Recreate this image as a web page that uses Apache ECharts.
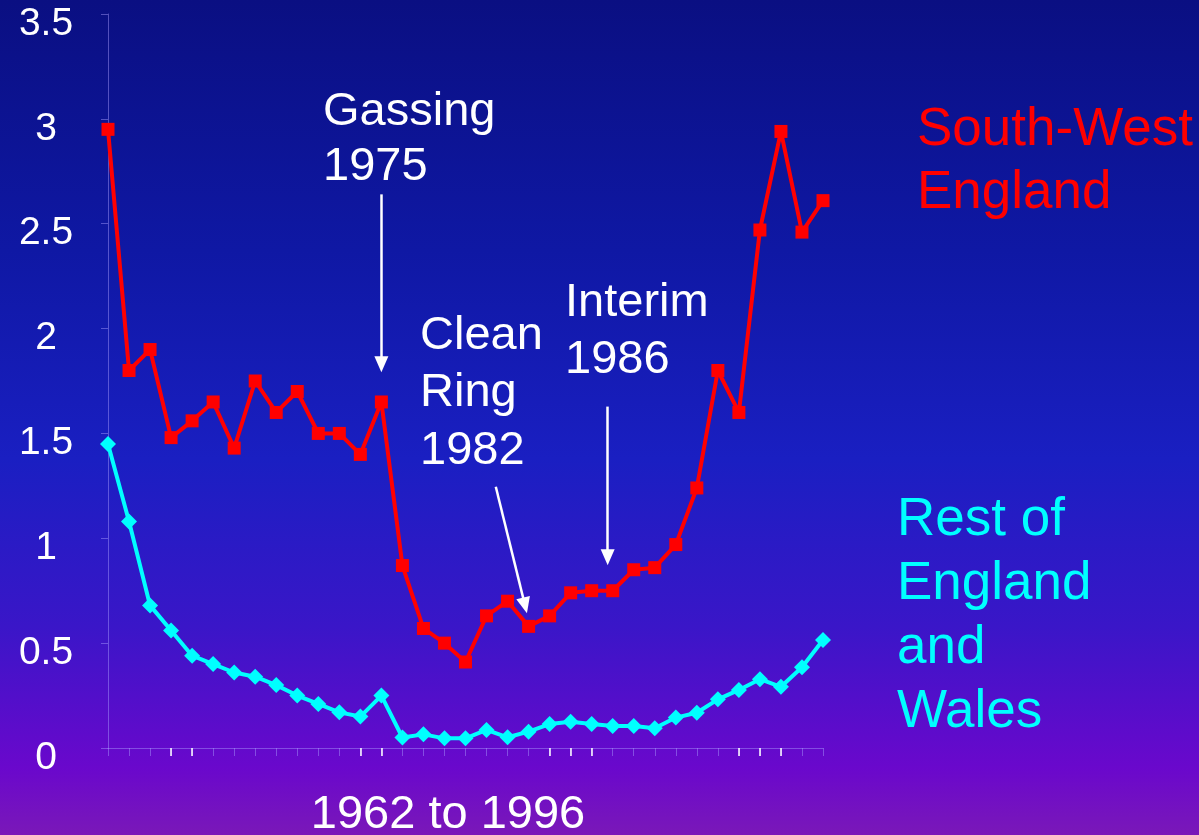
<!DOCTYPE html>
<html>
<head>
<meta charset="utf-8">
<script src="https://cdn.jsdelivr.net/npm/echarts@6/dist/echarts.min.js"></script>
<style>
  html, body { margin: 0; padding: 0; }
  #chart { width: 1199px; height: 835px; }
</style>
</head>
<body>
<div id="chart"></div>
<script>
// years 1962..1996
var years = [];
for (var y = 1962; y <= 1996; y++) years.push(y);

// south-west England (red)
var southWest = [2.95, 1.80, 1.90, 1.48, 1.56, 1.65, 1.43, 1.75, 1.60, 1.70,
  1.50, 1.50, 1.40, 1.65, 0.87, 0.57, 0.50, 0.41, 0.63, 0.70,
  0.58, 0.63, 0.74, 0.75, 0.75, 0.85, 0.86, 0.97, 1.24, 1.80,
  1.60, 2.47, 2.94, 2.46, 2.61];

// rest of England and Wales (cyan)
var restOfEngland = [1.45, 1.08, 0.68, 0.56, 0.44, 0.40, 0.36, 0.34, 0.30, 0.25,
  0.21, 0.17, 0.15, 0.25, 0.05, 0.065, 0.046, 0.046, 0.086, 0.051,
  0.078, 0.114, 0.125, 0.114, 0.105, 0.105, 0.094, 0.145, 0.168, 0.232,
  0.277, 0.328, 0.292, 0.385, 0.515];

var yTicks = [0, 0.5, 1, 1.5, 2, 2.5, 3, 3.5];

// arrows: [fromYear, fromValue, toYear, toValue]
var arrows = [
  [1975, 2.64, 1975, 1.83],
  [1980.44, 1.246, 1981.83, 0.68],
  [1985.76, 1.628, 1985.76, 0.91]
];

// brighter tick marks seen on the x axis
var brightTicks = [1965, 1966, 1974, 1975, 1983, 1984, 1985, 1992, 1993, 1994];

var faint = 'rgba(170,160,255,0.45)';
var font = 'Liberation Sans, Arial, sans-serif';

function pairs(vals) {
  return vals.map(function (v, i) { return [years[i], v]; });
}

var chart = echarts.init(document.getElementById('chart'));
chart.setOption({
  animation: false,
  backgroundColor: {
    type: 'linear', x: 0, y: 0, x2: 0, y2: 1,
    colorStops: [
      { offset: 0, color: '#0a0f82' },
      { offset: 0.3, color: '#0f18a4' },
      { offset: 0.55, color: '#1a1fc2' },
      { offset: 0.75, color: '#3a16c8' },
      { offset: 0.92, color: '#6a08cc' },
      { offset: 1, color: '#7a18b8' }
    ]
  },
  grid: { left: 108, right: 376, top: 14, bottom: 87 },
  xAxis: [{
    type: 'value',
    min: years[0], max: years[years.length - 1], interval: 1,
    axisLine: { lineStyle: { color: faint, width: 1 } },
    axisTick: { show: true, length: 8, lineStyle: { color: faint } },
    axisLabel: { show: false },
    splitLine: { show: false }
  }, {
    type: 'value',
    position: 'bottom',
    min: years[0], max: years[years.length - 1],
    axisLine: { show: false },
    axisTick: { show: true, length: 8, customValues: brightTicks, lineStyle: { color: '#ffffff', width: 1.5 } },
    axisLabel: { show: false },
    splitLine: { show: false }
  }],
  yAxis: {
    type: 'value',
    min: 0, max: 3.5, interval: 0.5,
    axisLine: { show: true, lineStyle: { color: faint } },
    axisTick: { show: true, length: 7, lineStyle: { color: faint } },
    splitLine: { show: false },
    axisLabel: {
      color: '#ffffff', fontSize: 39, fontFamily: font,
      align: 'center', margin: 62, verticalAlign: 'top', lineHeight: 20,
      formatter: function (v) { return yTicks.indexOf(v) >= 0 ? String(v) : ''; }
    }
  },
  series: [{
    name: 'South-West England',
    type: 'line',
    data: pairs(southWest),
    symbol: 'rect', symbolSize: 13,
    lineStyle: { color: '#ff0000', width: 4 },
    itemStyle: { color: '#ff0000' },
    emphasis: { disabled: true },
    z: 3,
    markLine: {
      silent: true,
      symbol: ['none', 'triangle'],
      symbolSize: [14, 16],
      label: { show: false },
      lineStyle: { color: '#ffffff', width: 2.5, type: 'solid' },
      data: arrows.map(function (a) {
        return [{ coord: [a[0], a[1]] }, { coord: [a[2], a[3]] }];
      })
    }
  }, {
    name: 'Rest of England and Wales',
    type: 'line',
    data: pairs(restOfEngland),
    symbol: 'diamond', symbolSize: [16, 16],
    lineStyle: { color: '#00ffff', width: 4 },
    itemStyle: { color: '#00ffff' },
    emphasis: { disabled: true },
    z: 3
  }],
  graphic: [
    { type: 'text', left: 323, top: 85, style: { text: 'Gassing\n1975', fill: '#ffffff', font: '47px ' + font, lineHeight: 55 } },
    { type: 'text', left: 420, top: 307, style: { text: 'Clean\nRing\n1982', fill: '#ffffff', font: '47px ' + font, lineHeight: 57.5 } },
    { type: 'text', left: 565, top: 275, style: { text: 'Interim\n1986', fill: '#ffffff', font: '47px ' + font, lineHeight: 57 } },
    { type: 'text', left: 917, top: 99, style: { text: 'South-West\nEngland', fill: '#ff0000', font: '53px ' + font, lineHeight: 63 } },
    { type: 'text', left: 897, top: 489, style: { text: 'Rest of\nEngland\nand\nWales', fill: '#00ffff', font: '53px ' + font, lineHeight: 63.7 } },
    { type: 'text', x: 448, y: 815, style: { text: '1962 to 1996', fill: '#ffffff', font: '47px ' + font, textAlign: 'center', textVerticalAlign: 'middle' } }
  ]
});
</script>
</body>
</html>
